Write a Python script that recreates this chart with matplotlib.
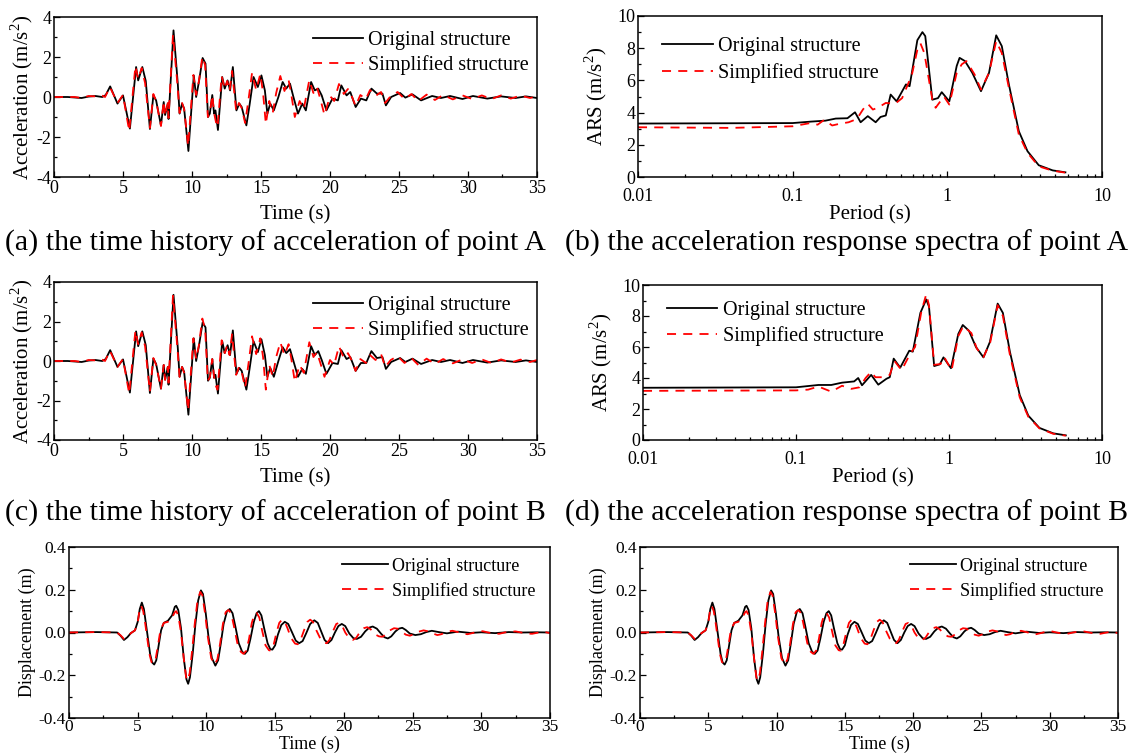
import matplotlib
matplotlib.use("Agg")
import matplotlib.pyplot as plt
from matplotlib.ticker import MultipleLocator, LogLocator, NullFormatter, FormatStrFormatter

plt.rcParams['font.family'] = ['Liberation Serif', 'DejaVu Serif']
plt.rcParams['mathtext.fontset'] = 'custom'
plt.rcParams['mathtext.rm'] = 'Liberation Serif'
plt.rcParams['axes.unicode_minus'] = False

# ---- acceleration time history (point A / point B), m/s^2 ----
acc_t_orig = [0, 1.0, 2.0, 2.5, 3.0, 3.5, 3.75, 4.07, 4.6, 5.0, 5.5, 5.95, 6.1, 6.4, 6.65, 6.95,
              7.2, 7.4, 7.75, 7.95, 8.05, 8.25, 8.3, 8.66, 8.97, 9.1, 9.28, 9.43, 9.74, 10.13,
              10.3, 10.5, 10.77, 10.98, 11.16, 11.29, 11.47, 11.6, 11.7, 11.88, 12.19, 12.37,
              12.58, 12.76, 12.96, 13.22, 13.43, 13.6, 13.94, 14.17, 14.46, 14.77, 15.03, 15.28,
              15.46, 15.67, 15.93, 16.26, 16.57, 16.83, 17.1, 17.35, 17.68, 17.99, 18.25, 18.63,
              18.9, 19.15, 19.4, 19.74, 20.18, 20.57, 20.82, 21.2, 21.47, 21.86, 22.24, 22.63,
              23.0, 23.4, 23.8, 24.05, 24.43, 25.08, 25.46, 25.98, 26.6, 27.4, 28.04, 28.7,
              29.6, 30.36, 31.4, 32.4, 33.45, 34.2, 35]
acc_a_orig = [0, 0.0, -0.05, 0.02, 0.05, 0.0, 0.1, 0.53, -0.33, 0.08, -1.58, 1.5, 0.83, 1.5, 0.8, -1.6,
              0.08, -0.17, -1.42, -0.25, -0.9, -0.33, -1.1, 3.33, 0.67, -0.83, -0.33, -0.58, -2.7, 1.08,
              0.0, 0.75, 1.95, 1.67, -1.0, -0.83, 0.1, -0.83, -0.67, -1.65, 1.0, 0.42,
              0.83, 0.33, 1.5, -0.67, -0.33, -0.5, -1.42, -0.4, 1.0, 0.5, 1.08, 0.33,
              -0.83, -0.33, -0.67, 0.0, 0.75, 0.42, 0.67, 0.0, -0.83, -0.33, -0.67, 0.75,
              0.33, 0.42, 0.08, -0.67, -0.08, -0.17, 0.58, 0.08, 0.25, -0.5, -0.08, -0.17,
              0.42, 0.17, 0.17, -0.42, 0.0, 0.2, -0.03, 0.13, -0.17, 0.05, -0.05, 0.05,
              -0.1, 0.05, -0.08, 0.03, -0.05, 0.03, -0.05]
acc_b_orig = [0, 0.0, -0.05, 0.02, 0.05, 0.0, 0.1, 0.55, -0.3, 0.08, -1.6, 1.5, 0.75, 1.5, 0.8, -1.62,
              0.12, -0.15, -1.4, -0.2, -0.95, -0.3, -1.2, 3.35, 0.67, -0.8, -0.3, -0.55, -2.72, 1.15,
              0.0, 0.75, 1.95, 1.7, -1.0, -0.85, 0.1, -0.85, -0.7, -1.65, 1.0, 0.4,
              0.8, 0.3, 1.55, -0.65, -0.35, -0.5, -1.45, -0.4, 1.0, 0.45, 1.1, 0.3,
              -0.8, -0.35, -0.8, 0.0, 0.7, 0.4, 0.6, 0.0, -0.8, -0.4, -0.65, 0.75,
              0.3, 0.5, 0.05, -0.65, -0.1, -0.15, 0.55, 0.1, 0.2, -0.5, -0.1, -0.1,
              0.5, 0.15, 0.2, -0.4, -0.05, 0.15, -0.05, 0.12, -0.15, 0.05, -0.05, 0.05,
              -0.1, 0.05, -0.08, 0.03, -0.05, 0.03, -0.05]

acc_t_simp = [0, 1.5, 2.0, 2.5, 3.0, 3.4, 3.7, 4.05, 4.6, 5.0, 5.45, 5.9, 6.1, 6.35, 6.6, 6.95, 7.2,
              7.4, 7.75, 7.95, 8.05, 8.25, 8.3, 8.62, 8.95, 9.1, 9.28, 9.43, 9.72, 10.1, 10.3,
              10.5, 10.75, 10.95, 11.15, 11.3, 11.47, 11.6, 11.75, 11.85, 12.15, 12.37, 12.55,
              12.72, 12.9, 13.2, 13.4, 13.6, 13.85, 14.1, 14.35, 14.65, 14.95, 15.15, 15.35,
              15.6, 15.85, 16.1, 16.4, 16.7, 17.0, 17.2, 17.45, 17.8, 18.1, 18.5, 18.8, 19.05,
              19.3, 19.6, 20.0, 20.3, 20.65, 21.0, 21.3, 21.6, 21.85, 22.2, 22.6, 22.9, 23.3,
              23.7, 24.0, 24.4, 24.9, 25.4, 25.9, 26.4, 27.0, 27.6, 28.2, 28.9, 29.6, 30.3,
              31.0, 31.7, 32.4, 33.1, 33.8, 34.5, 35]
acc_a_simp = [0, 0.0, -0.05, 0.05, 0.03, 0.1, 0.0, 0.5, -0.3, 0.1, -1.7, 1.55, 0.9, 1.45, 0.7, -1.55, 0.15,
              -0.2, -1.45, -0.2, -0.95, -0.3, -1.05, 3.1, 0.6, -0.8, -0.3, -0.6, -2.45, 1.1, 0.1,
              0.8, 2.0, 1.6, -1.0, -0.8, 0.1, -0.8, -1.3, -1.5, 1.05, 0.4, 0.8,
              0.3, 1.3, -0.7, -0.3, -0.55, -1.3, -0.1, 1.2, 0.35, 1.15, 0.2, -1.35,
              -0.2, -0.8, 0.2, 1.05, 0.3, 0.85, 0.1, -1.0, -0.2, -0.6, 0.85, 0.2, 0.5,
              -0.1, -0.9, 0.05, -0.2, 0.65, 0.15, 0.4, 0.0, -0.45, 0.1, -0.1, 0.35, 0.05,
              0.25, -0.3, 0.05, 0.25, -0.1, 0.15, -0.2, 0.12, -0.15, 0.1, -0.12, 0.08, -0.1,
              0.08, -0.1, 0.08, -0.08, 0.07, -0.05, 0.05]
acc_b_simp = [0, 0.0, -0.05, 0.05, 0.03, 0.1, 0.0, 0.52, -0.3, 0.1, -1.65, 1.55, 0.85, 1.45, 0.75, -1.55, 0.15,
              -0.2, -1.4, -0.2, -0.95, -0.3, -1.1, 3.3, 0.6, -0.8, -0.3, -0.6, -2.5, 1.15, 0.1,
              0.8, 2.15, 1.6, -1.0, -0.8, 0.1, -0.8, -1.3, -1.45, 1.05, 0.4, 0.8,
              0.3, 1.35, -0.7, -0.3, -0.55, -1.35, -0.1, 1.25, 0.35, 1.15, 0.2, -1.45,
              -0.2, -0.8, 0.2, 0.95, 0.3, 0.85, 0.1, -1.05, -0.2, -0.6, 0.95, 0.2, 0.45,
              -0.1, -0.8, 0.05, -0.2, 0.75, 0.15, 0.4, 0.0, -0.5, 0.1, -0.1, 0.3, 0.05,
              0.35, -0.3, 0.05, 0.25, -0.1, 0.15, -0.2, 0.12, -0.15, 0.1, -0.12, 0.08, -0.1,
              0.08, -0.1, 0.08, -0.08, 0.07, -0.05, 0.05]

# ---- acceleration response spectra, m/s^2 ----
ars_p_orig_a = [0.01, 0.1, 0.131, 0.163, 0.19, 0.226, 0.253, 0.275, 0.306, 0.344, 0.37, 0.40, 0.43,
                0.47, 0.54, 0.57, 0.64, 0.69, 0.72, 0.80, 0.87, 0.92, 1.03, 1.15, 1.2, 1.3, 1.45,
                1.65, 1.86, 2.07, 2.25, 2.5, 2.9, 3.3, 3.9, 4.8, 5.8]
ars_a_orig = [3.32, 3.35, 3.44, 3.5, 3.63, 3.65, 4.02, 3.4, 3.78, 3.4, 3.73, 3.82, 5.12,
              4.7, 5.75, 5.64, 8.5, 9.0, 8.75, 4.8, 4.9, 5.27, 4.7, 6.9, 7.4, 7.2, 6.47,
              5.33, 6.47, 8.8, 8.13, 5.75, 2.84, 1.6, 0.73, 0.41, 0.29]
ars_p_simp_a = [0.01, 0.04, 0.1, 0.13, 0.145, 0.16, 0.18, 0.2, 0.23, 0.26, 0.285, 0.306, 0.33, 0.355,
                0.40, 0.46, 0.51, 0.59, 0.64, 0.67, 0.71, 0.80, 0.84, 0.95, 1.03, 1.15, 1.24, 1.33,
                1.5, 1.65, 1.86, 2.07, 2.25, 2.5, 2.9, 3.3, 3.9, 4.8, 5.8]
ars_a_simp = [3.09, 3.05, 3.15, 3.35, 3.25, 3.55, 3.2, 3.3, 3.4, 3.6, 4.2, 4.55, 4.19, 4.3,
              4.6, 4.55, 4.9, 6.35, 7.9, 8.3, 7.7, 4.8, 4.3, 5.0, 4.5, 6.47, 7.0, 7.2,
              6.37, 5.43, 6.47, 8.44, 7.7, 5.54, 2.63, 1.5, 0.66, 0.39, 0.27]

ars_p_orig_b = [0.01, 0.1, 0.14, 0.17, 0.2, 0.24, 0.255, 0.27, 0.31, 0.345, 0.39, 0.41, 0.435, 0.48,
                0.55, 0.58, 0.65, 0.71, 0.74, 0.8, 0.87, 0.92, 1.03, 1.15, 1.23, 1.35, 1.5, 1.68,
                1.85, 2.08, 2.25, 2.5, 2.9, 3.3, 3.9, 4.8, 5.8]
ars_b_orig = [3.37, 3.4, 3.55, 3.55, 3.7, 3.78, 4.0, 3.53, 4.2, 3.57, 3.95, 4.05, 5.25, 4.67,
              5.76, 5.7, 8.2, 9.07, 8.6, 4.77, 4.88, 5.33, 4.63, 6.84, 7.42, 7.05, 6.0, 5.33,
              6.32, 8.8, 8.2, 5.7, 2.9, 1.57, 0.78, 0.43, 0.3]
ars_p_simp_b = [0.01, 0.1, 0.12, 0.14, 0.17, 0.2, 0.23, 0.26, 0.285, 0.31, 0.33, 0.37, 0.41, 0.44,
                0.49, 0.56, 0.6, 0.66, 0.71, 0.74, 0.8, 0.88, 0.93, 1.04, 1.15, 1.24, 1.4, 1.52,
                1.68, 1.86, 2.08, 2.25, 2.5, 2.9, 3.3, 3.9, 4.8, 5.8]
ars_b_simp = [3.17, 3.2, 3.25, 3.45, 3.12, 3.5, 3.3, 3.4, 4.0, 4.4, 4.05, 4.05, 4.2, 5.1,
              4.5, 5.6, 6.0, 8.3, 9.4, 8.7, 4.85, 4.9, 5.35, 4.5, 6.7, 7.35, 6.9, 5.9,
              5.35, 6.3, 8.7, 8.0, 5.5, 2.75, 1.5, 0.75, 0.4, 0.28]

# ---- displacement time history, m ----
disp_t_orig = [0, 2, 3.5, 3.75, 4.0, 4.25, 4.5, 4.8, 5.0, 5.15, 5.3, 5.45, 5.6, 5.75, 5.9, 6.05,
               6.2, 6.35, 6.5, 6.7, 6.9, 7.2, 7.5, 7.7, 7.8, 7.95, 8.15, 8.35, 8.55, 8.67, 8.8,
               9.0, 9.2, 9.4, 9.6, 9.75, 9.95, 10.15, 10.4, 10.65, 10.85, 11.05, 11.25, 11.5,
               11.7, 11.9, 12.1, 12.35, 12.6, 12.8, 13.0, 13.2, 13.45, 13.65, 13.82, 14.0, 14.2,
               14.45, 14.65, 14.8, 15.0, 15.2, 15.45, 15.7, 15.95, 16.2, 16.5, 16.75, 17.0,
               17.25, 17.55, 17.85, 18.1, 18.35, 18.6, 18.85, 19.1, 19.35, 19.6, 19.85, 20.1,
               20.4, 20.7, 20.95, 21.25, 21.55, 21.85, 22.1, 22.4, 22.7, 22.95, 23.2, 23.45,
               23.75, 24.0, 24.25, 24.5, 24.8, 25.2, 25.6, 26.0, 26.4, 26.9, 27.5, 28.3, 29.2,
               30, 31, 32, 33, 34, 35]
disp_orig = [0, 0.002, 0, -0.015, -0.035, -0.022, -0.003, 0.01, 0.05, 0.11, 0.14, 0.11, 0.04, -0.03,
             -0.1, -0.14, -0.15, -0.13, -0.07, 0.01, 0.045, 0.055, 0.08, 0.12, 0.125, 0.105, 0.02,
             -0.12, -0.22, -0.24, -0.21, -0.1, 0.04, 0.15, 0.197, 0.18, 0.09, -0.02, -0.12, -0.155,
             -0.13, -0.05, 0.04, 0.1, 0.11, 0.09, 0.03, -0.05, -0.09, -0.1, -0.085, -0.03, 0.05,
             0.09, 0.1, 0.08, 0.02, -0.05, -0.078, -0.08, -0.06, -0.01, 0.035, 0.05, 0.04, 0.005,
             -0.038, -0.05, -0.04, -0.005, 0.04, 0.057, 0.045, 0.005, -0.035, -0.05, -0.035, 0.0,
             0.03, 0.04, 0.03, -0.005, -0.027, -0.03, -0.02, 0.005, 0.023, 0.028, 0.018, -0.005,
             -0.022, -0.028, -0.018, 0.005, 0.018, 0.022, 0.012, -0.005, -0.012, -0.008, 0.002,
             0.008, 0.002, -0.004, 0.004, -0.002, 0.001, -0.003, 0.002, 0, 0.001, 0]
disp_t_simp = [0, 2, 3.5, 3.75, 4.0, 4.25, 4.5, 4.8, 5.0, 5.12, 5.25, 5.4, 5.55, 5.7, 5.85, 6.0,
               6.15, 6.3, 6.45, 6.65, 6.9, 7.2, 7.5, 7.7, 7.8, 7.95, 8.15, 8.35, 8.52, 8.63, 8.78,
               8.95, 9.15, 9.35, 9.55, 9.7, 9.9, 10.1, 10.35, 10.6, 10.8, 11.0, 11.2, 11.4, 11.6,
               11.8, 12.0, 12.25, 12.5, 12.7, 12.9, 13.1, 13.3, 13.5, 13.65, 13.85, 14.05, 14.3,
               14.55, 14.7, 14.9, 15.1, 15.3, 15.5, 15.7, 15.9, 16.15, 16.45, 16.65, 16.85, 17.1,
               17.35, 17.55, 17.75, 18.0, 18.3, 18.55, 18.75, 18.95, 19.2, 19.45, 19.65, 19.85,
               20.1, 20.4, 20.65, 20.9, 21.2, 21.45, 21.7, 21.95, 22.25, 22.55, 22.8, 23.05,
               23.35, 23.65, 23.9, 24.2, 24.5, 24.8, 25.1, 25.45, 25.8, 26.1, 26.45, 26.8, 27.1,
               27.5, 27.9, 28.3, 28.7, 29.0, 29.4, 29.8, 30.1, 30.5, 30.9, 31.3, 31.7, 32.1, 32.5,
               32.9, 33.3, 33.7, 34.1, 34.5, 35]
disp_simp = [0, 0.002, 0, -0.013, -0.03, -0.02, -0.003, 0.01, 0.045, 0.1, 0.125, 0.1, 0.04, -0.03,
             -0.1, -0.138, -0.145, -0.125, -0.07, 0.01, 0.045, 0.05, 0.07, 0.095, 0.1, 0.08, 0.0,
             -0.12, -0.21, -0.225, -0.19, -0.09, 0.04, 0.15, 0.19, 0.175, 0.09, -0.02, -0.12, -0.15,
             -0.125, -0.05, 0.04, 0.095, 0.105, 0.09, 0.03, -0.05, -0.09, -0.1, -0.085, -0.03,
             0.045, 0.085, 0.092, 0.07, 0.01, -0.06, -0.083, -0.085, -0.055, 0.0, 0.045, 0.06,
             0.05, 0.02, -0.025, -0.052, -0.055, -0.035, 0.01, 0.05, 0.06, 0.05, 0.01, -0.03,
             -0.048, -0.05, -0.035, 0.005, 0.04, 0.045, 0.035, 0.0, -0.028, -0.035, -0.025, 0.005,
             0.02, 0.025, 0.015, -0.008, -0.018, -0.02, -0.01, 0.01, 0.02, 0.018, 0.005, -0.01,
             -0.015, -0.008, 0.004, 0.01, 0.006, -0.004, -0.012, -0.008, 0.004, 0.008, 0.002,
             -0.006, -0.008, -0.002, 0.005, 0.006, 0.0, -0.005, -0.006, 0.0, 0.004, 0.005, 0.0,
             -0.005, -0.006, -0.001, 0.004, -0.003]

captions = ["(a) the time history of acceleration of point A",
            "(b) the acceleration response spectra of point A",
            "(c) the time history of acceleration of point B",
            "(d) the acceleration response spectra of point B"]

W, H = 1132, 756
fig = plt.figure(figsize=(W / 100, H / 100), dpi=100)


def add_axes(x0, y0, x1, y1):
    # pixel box (top-left origin) -> figure fraction
    return fig.add_axes([x0 / W, 1 - y1 / H, (x1 - x0) / W, (y1 - y0) / H])


def style(ax, size, xpad=2):
    ax.tick_params(which='both', direction='in', top=False, right=False, labelsize=size,
                   width=0.9)
    ax.tick_params(axis='x', which='both', pad=xpad)
    ax.tick_params(axis='y', which='both', pad=2)
    ax.tick_params(which='major', length=4)
    ax.tick_params(which='minor', length=2.5)
    for s in ax.spines.values():
        s.set_linewidth(1.1)


def legend(ax, loc, anchor, size, spacing=0.25):
    ax.legend(loc=loc, bbox_to_anchor=anchor, frameon=False, fontsize=size,
              handlelength=2.5, handletextpad=0.25, labelspacing=spacing, borderaxespad=0)


def acc_panel(box, y_orig, y_simp):
    ax = add_axes(*box)
    ax.plot(acc_t_orig, y_orig, color='black', lw=1.3, label='Original structure')
    ax.plot(acc_t_simp, y_simp, color='red', lw=1.3, ls=(0, (5, 4)), label='Simplified structure')
    ax.set_xlim(0, 35)
    ax.set_ylim(-4, 4)
    ax.xaxis.set_major_locator(MultipleLocator(5))
    ax.xaxis.set_minor_locator(MultipleLocator(2.5))
    ax.yaxis.set_major_locator(MultipleLocator(2))
    ax.yaxis.set_minor_locator(MultipleLocator(1))
    ax.set_xlabel('Time (s)', fontsize=15, labelpad=6)
    ax.set_ylabel('Acceleration (m/s$^2$)', fontsize=15, labelpad=1)
    style(ax, 13)
    legend(ax, 'upper right', (1.0, 0.965), 14.5)
    return ax


def ars_panel(box, p_o, v_o, p_s, v_s, anchor):
    ax = add_axes(*box)
    ax.plot(p_o, v_o, color='black', lw=1.3, label='Original structure')
    ax.plot(p_s, v_s, color='red', lw=1.3, ls=(0, (5, 4)), label='Simplified structure')
    ax.set_xscale('log')
    ax.set_xlim(0.01, 10)
    ax.set_ylim(0, 10)
    ax.set_xticks([0.01, 0.1, 1, 10])
    ax.set_xticklabels(['0.01', '0.1', '1', '10'])
    ax.xaxis.set_minor_locator(LogLocator(base=10, subs=range(2, 10)))
    ax.xaxis.set_minor_formatter(NullFormatter())
    ax.yaxis.set_major_locator(MultipleLocator(2))
    ax.yaxis.set_minor_locator(MultipleLocator(1))
    ax.set_xlabel('Period (s)', fontsize=15, labelpad=0)
    ax.set_ylabel('ARS (m/s$^2$)', fontsize=15, labelpad=6)
    style(ax, 13, xpad=8)
    legend(ax, 'upper left', anchor, 14.5, spacing=0.33)
    return ax


def disp_panel(box):
    ax = add_axes(*box)
    ax.plot(disp_t_orig, disp_orig, color='black', lw=1.3, label='Original structure')
    ax.plot(disp_t_simp, disp_simp, color='red', lw=1.3, ls=(0, (5, 4)), label='Simplified structure')
    ax.set_xlim(0, 35)
    ax.set_ylim(-0.4, 0.4)
    ax.xaxis.set_major_locator(MultipleLocator(5))
    ax.xaxis.set_minor_locator(MultipleLocator(2.5))
    ax.yaxis.set_major_locator(MultipleLocator(0.2))
    ax.yaxis.set_minor_locator(MultipleLocator(0.1))
    ax.yaxis.set_major_formatter(FormatStrFormatter('%.1f'))
    ax.set_xlabel('Time (s)', fontsize=13, labelpad=0)
    ax.set_ylabel('Displacement (m)', fontsize=13, labelpad=2)
    style(ax, 12.5, xpad=1)
    legend(ax, 'upper right', (0.985, 0.98), 13, spacing=0.4)
    return ax


acc_panel((54, 17, 537, 177), acc_a_orig, acc_a_simp)
ars_panel((638, 16, 1102, 177), ars_p_orig_a, ars_a_orig, ars_p_simp_a, ars_a_simp, (0.035, 0.92))
acc_panel((54, 282, 537, 440), acc_b_orig, acc_b_simp)
ars_panel((643, 285, 1102, 440), ars_p_orig_b, ars_b_orig, ars_p_simp_b, ars_b_simp, (0.035, 0.95))
disp_panel((69, 547, 550, 718))
disp_panel((640, 547, 1118, 718))

fig.text(5 / W, 1 - 243 / H, captions[0], fontsize=21.5, va='center', ha='left')
fig.text(565 / W, 1 - 243 / H, captions[1], fontsize=21.5, va='center', ha='left')
fig.text(5 / W, 1 - 513 / H, captions[2], fontsize=21.5, va='center', ha='left')
fig.text(565 / W, 1 - 513 / H, captions[3], fontsize=21.5, va='center', ha='left')

fig.savefig('out.png', dpi=100)
